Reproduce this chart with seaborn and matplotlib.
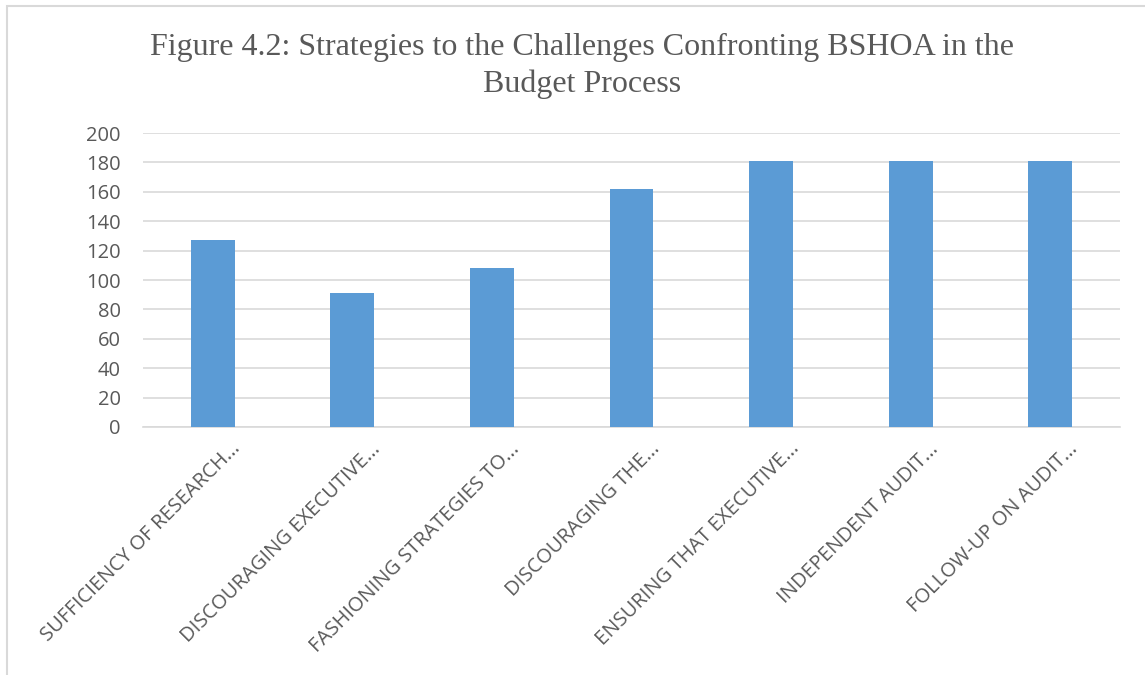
import matplotlib
matplotlib.use("Agg")
import matplotlib.pyplot as plt
import matplotlib.transforms as mtransforms
import seaborn as sns
import pandas as pd
from matplotlib.patches import Rectangle

categories = [
    "SUFFICIENCY OF RESEARCH...",
    "DISCOURAGING EXECUTIVE...",
    "FASHIONING STRATEGIES TO...",
    "DISCOURAGING THE...",
    "ENSURING THAT EXECUTIVE...",
    "INDEPENDENT AUDIT...",
    "FOLLOW-UP ON AUDIT...",
]
values = [127, 91, 108, 162, 181, 181, 181]
y_ticks = [0, 20, 40, 60, 80, 100, 120, 140, 160, 180, 200]
title = "Figure 4.2: Strategies to the Challenges Confronting BSHOA in the\nBudget Process"

sns.set_theme(style="white")
plt.rcParams['font.family'] = ['Open Sans', 'DejaVu Sans']

df = pd.DataFrame({"cat": categories, "val": values})

fig = plt.figure(figsize=(11.45, 6.75), dpi=100)
ax = fig.add_axes([143/1145, 1-427/675, (1120-143)/1145, (427-133)/675])

sns.barplot(data=df, x="cat", y="val", ax=ax, color="#5B9BD5", width=0.315,
            saturation=1, edgecolor="#5B9BD5", linewidth=0, zorder=3)

ax.set_ylim(0, 200)
ax.set_yticks(y_ticks)
ax.set_yticklabels([str(v) for v in y_ticks], fontsize=14.5, color="#595959")
ax.yaxis.grid(True, color="#D9D9D9", linewidth=1.2, zorder=0)
ax.set_axisbelow(True)
ax.set_xlabel("")
ax.set_ylabel("")
for s in ["top", "right", "left"]:
    ax.spines[s].set_visible(False)
ax.spines["bottom"].set_color("#D9D9D9")
ax.spines["bottom"].set_linewidth(1.2)
ax.tick_params(axis="both", length=0)
ax.tick_params(axis="y", pad=16)
ax.set_xticks(range(len(categories)))
ax.set_xticklabels(categories, rotation=45, ha="right", va="center",
                   rotation_mode="anchor", fontsize=14.5, color="#595959")
ax.tick_params(axis="x", pad=0)
offset = mtransforms.ScaledTranslation(25/100, -19/100, fig.dpi_scale_trans)
for lbl in ax.get_xticklabels():
    lbl.set_transform(lbl.get_transform() + offset)

fig.text(582/1145, 1-66/675, title, ha="center", va="center",
         fontsize=23, color="#595959", family=["Liberation Serif", "DejaVu Serif"],
         linespacing=1.3)

fig.patches.append(Rectangle((7/1145, -0.1), 1.2, 1 - 6/675 + 0.1, transform=fig.transFigure,
                             fill=False, edgecolor="#D9D9D9", linewidth=1.5))

fig.savefig("out.png", dpi=100, facecolor="white")
